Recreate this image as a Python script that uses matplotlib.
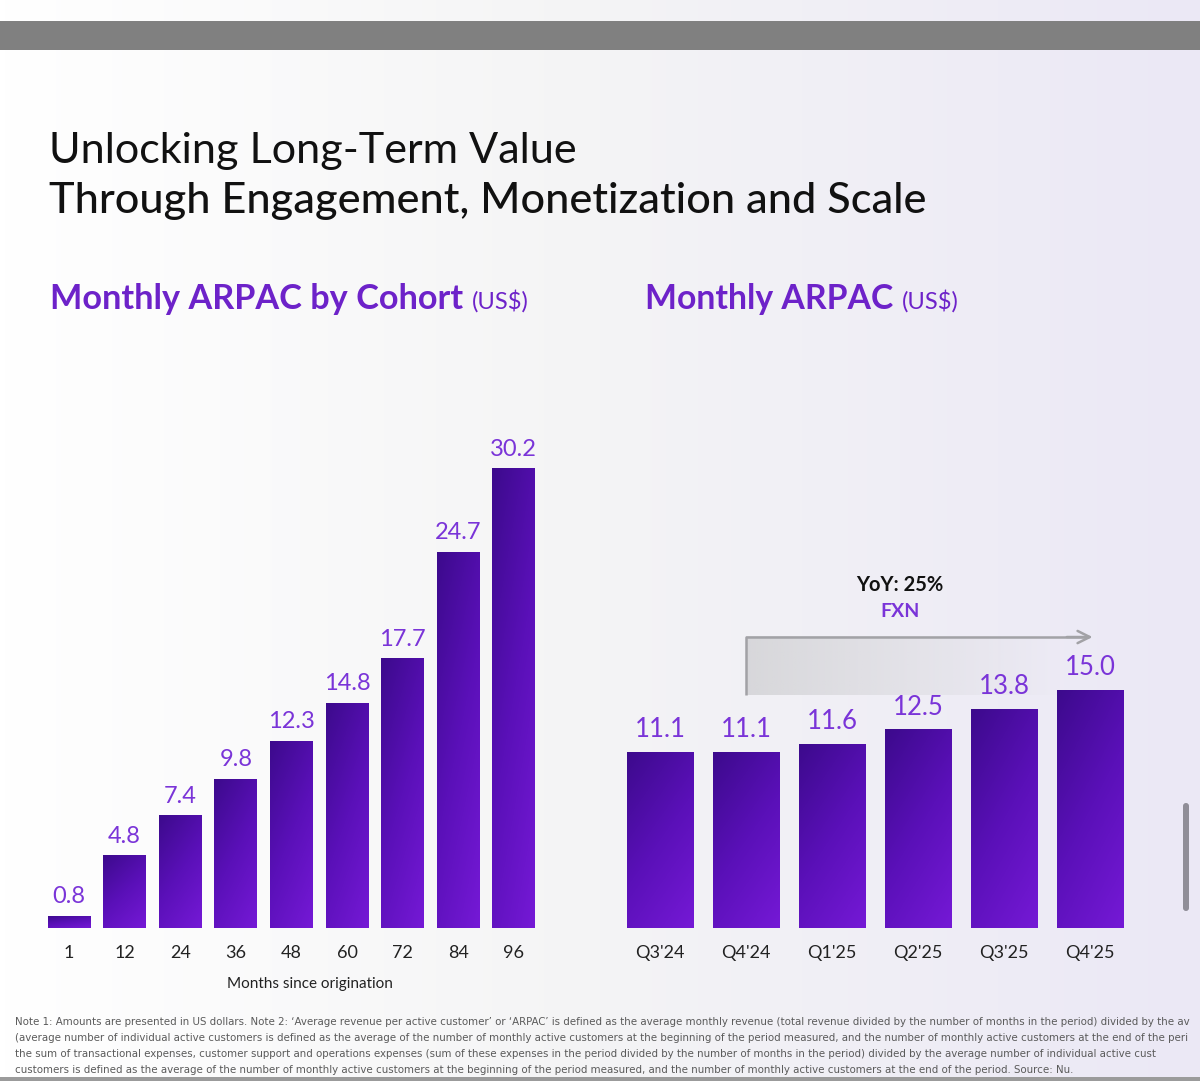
import matplotlib
matplotlib.use("Agg")
import matplotlib.pyplot as plt
import numpy as np
from matplotlib.colors import LinearSegmentedColormap, to_rgb
from matplotlib.patches import FancyBboxPatch, Rectangle

# data
cohort_months = ["1", "12", "24", "36", "48", "60", "72", "84", "96"]
cohort_arpac = [0.8, 4.8, 7.4, 9.8, 12.3, 14.8, 17.7, 24.7, 30.2]
quarters = ["Q3'24", "Q4'24", "Q1'25", "Q2'25", "Q3'25", "Q4'25"]
quarter_arpac = [11.1, 11.1, 11.6, 12.5, 13.8, 15.0]
yoy_text = "YoY: 25%"
yoy_sub = "FXN"

title_1 = "Unlocking Long-Term Value"
title_2 = "Through Engagement, Monetization and Scale"
left_title = "Monthly ARPAC by Cohort"
right_title = "Monthly ARPAC"
unit_text = "(US$)"
xlabel_left = "Months since origination"

notes = [
    "Note 1: Amounts are presented in US dollars. Note 2: \u2018Average revenue per active customer\u2019 or \u2018ARPAC\u2019 is defined as the average monthly revenue (total revenue divided by the number of months in the period) divided by the av",
    "(average number of individual active customers is defined as the average of the number of monthly active customers at the beginning of the period measured, and the number of monthly active customers at the end of the peri",
    "the sum of transactional expenses, customer support and operations expenses (sum of these expenses in the period divided by the number of months in the period) divided by the average number of individual active cust",
    "customers is defined as the average of the number of monthly active customers at the beginning of the period measured, and the number of monthly active customers at the end of the period. Source: Nu.",
]

W, H = 1200, 1081
PURPLE_TXT = "#7a34d8"
PURPLE_HEAD = "#6d22c9"
HEAD_FONT = ["Lato", "DejaVu Sans"]

bar_cmap = LinearSegmentedColormap.from_list("nu", ["#3c0a8c", "#5a10b8", "#7519d6"])

fig = plt.figure(figsize=(W / 100, H / 100), dpi=100)


def fx(px):
    return px / W


def fy(py):
    return 1 - py / H


# background layer in pixel coordinates
bg = fig.add_axes([0, 0, 1, 1], zorder=0)
bg.set_xlim(0, W)
bg.set_ylim(H, 0)
bg.axis("off")
c0, c1, c2 = np.array(to_rgb("#ffffff")), np.array(to_rgb("#f4f4f5")), np.array(to_rgb("#ebe8f5"))
u = np.linspace(0, 1, 256)
row = np.where(u[:, None] < 0.5, c0 + (c1 - c0) * (u[:, None] / 0.5), c1 + (c2 - c1) * ((u[:, None] - 0.5) / 0.5))
bg.imshow(row[None, :, :], extent=[0, W, H, 0], aspect="auto")
bg.add_patch(Rectangle((0, 21), W, 29, color="#808080", lw=0))
bg.add_patch(Rectangle((0, 1077), W, 4, color="#9b9b9b", lw=0))
bg.add_patch(FancyBboxPatch((1183, 803), 6, 108, boxstyle="round,pad=0,rounding_size=3",
                            color="#908e98", lw=0))

renderer = fig.canvas.get_renderer()


def fit(t, width_px):
    w = t.get_window_extent(renderer).width
    t.set_fontsize(t.get_fontsize() * width_px / w)


# titles
t = fig.text(fx(49), fy(163), title_1, family=HEAD_FONT, weight="normal", fontsize=30,
             color="#111111", va="baseline")
fit(t, 527)
t = fig.text(fx(49), fy(213), title_2, family=HEAD_FONT, weight="medium", fontsize=30,
             color="#111111", va="baseline")
fit(t, 876)


def subtitle(x0, text, width_px, unit_width):
    st = fig.text(fx(x0), fy(309), text, family=HEAD_FONT, weight="bold", fontsize=22,
                  color=PURPLE_HEAD, va="baseline")
    fit(st, width_px)
    x1 = st.get_window_extent(renderer).x1
    ut = fig.text((x1 + 9) / W, fy(309), unit_text, family=HEAD_FONT, fontsize=14,
                  color=PURPLE_HEAD, va="baseline")
    fit(ut, unit_width)


subtitle(50, left_title, 412, 57)
subtitle(645, right_title, 248, 57)


def gradient_bars(ax, xs, vals, width):
    bars = ax.bar(xs, vals, width=width, color="none", edgecolor="none", zorder=2)
    gx, gy = np.meshgrid(np.linspace(0, 1, 64), np.linspace(0, 1, 256))
    grad = 0.35 * gx + 0.65 * (1 - gy)  # row 0 is the bottom: bright there, dark at top-left
    for b in bars:
        x0, y0 = b.get_xy()
        im = ax.imshow(grad, cmap=bar_cmap, origin="lower", aspect="auto", zorder=2,
                       extent=[x0, x0 + b.get_width(), y0, y0 + b.get_height()])
        im.set_clip_path(b)
    return bars


def style(ax):
    for s in ax.spines.values():
        s.set_visible(False)
    ax.set_yticks([])
    ax.patch.set_alpha(0)
    ax.tick_params(axis="x", length=0, pad=12, labelsize=13, labelcolor="#222222")
    for lab in ax.get_xticklabels():
        lab.set_family(HEAD_FONT)


# left chart: cohort ARPAC
base_py, top_py = 928, 400
L1, R1, c1x, step1, ppu1 = 20, 600, 69, 55.6, 15.23
ax1 = fig.add_axes([fx(L1), fy(base_py), fx(R1 - L1), (base_py - top_py) / H], zorder=1)
x1 = np.arange(len(cohort_months))
bars1 = gradient_bars(ax1, x1, cohort_arpac, 0.77)
ax1.set_xlim((L1 - c1x) / step1, (R1 - c1x) / step1)
ax1.set_ylim(0, (base_py - top_py) / ppu1)
ax1.set_xticks(x1, cohort_months)
style(ax1)
ax1.bar_label(bars1, fmt="%.1f", padding=6, fontsize=17, color=PURPLE_TXT, family=HEAD_FONT)
ax1.set_xlabel(xlabel_left, fontsize=11, color="#222222", family=HEAD_FONT, labelpad=12)

# right chart: quarterly ARPAC
L2, R2, c2x, step2, ppu2 = 590, 1160, 660, 86.0, 15.9
ax2 = fig.add_axes([fx(L2), fy(base_py), fx(R2 - L2), (base_py - top_py) / H], zorder=1)
x2 = np.arange(len(quarters))
bars2 = gradient_bars(ax2, x2, quarter_arpac, 0.77)
ax2.set_xlim((L2 - c2x) / step2, (R2 - c2x) / step2)
ax2.set_ylim(0, (base_py - top_py) / ppu2)
ax2.set_xticks(x2, quarters)
style(ax2)
ax2.bar_label(bars2, fmt="%.1f", padding=7, fontsize=18.5, color=PURPLE_TXT, family=HEAD_FONT)

# YoY bracket: from Q4'24 to Q4'25
xa, xb = x2[1], x2[-1] + 0.03
y_lo, y_hi = 14.65, 18.3
fade = np.zeros((2, 128, 4))
fade[..., :3] = to_rgb("#cfcfd2")
fade[..., 3] = np.linspace(0.75, 0.0, 128)[None, :]
ax2.imshow(fade, extent=[xa, xb - 0.35, y_lo, y_hi], aspect="auto", zorder=1)
ax2.plot([xa, xa, xb - 0.05], [y_lo, y_hi, y_hi], color="#a2a2a6", lw=1.8,
         solid_capstyle="butt", zorder=3)
ax2.annotate("", xy=(xb, y_hi), xytext=(xb - 0.3, y_hi),
             arrowprops=dict(arrowstyle="->", color="#a2a2a6", lw=1.8, mutation_scale=22,
                             shrinkA=0, shrinkB=0))
ax2.set_xlim((L2 - c2x) / step2, (R2 - c2x) / step2)
ax2.set_ylim(0, (base_py - top_py) / ppu2)
ax2.text(2.79, 21.6, yoy_text, ha="center", va="center", fontsize=14.5, weight="bold",
         color="#111111", family=HEAD_FONT)
ax2.text(2.79, 19.9, yoy_sub, ha="center", va="center", fontsize=14, weight="bold",
         color=PURPLE_TXT, family=HEAD_FONT)

# footnote, condensed face
note_texts = []
for i, line in enumerate(notes):
    nt = fig.text(fx(15), fy(1025 + 16 * i), line, family="DejaVu Sans", stretch="condensed",
                  fontsize=8.5, color="#5a5a5a", va="baseline")
    note_texts.append(nt)
fit(note_texts[3], 1058)
for nt in note_texts[:3]:
    nt.set_fontsize(note_texts[3].get_fontsize())

fig.savefig("out.png", dpi=100)
